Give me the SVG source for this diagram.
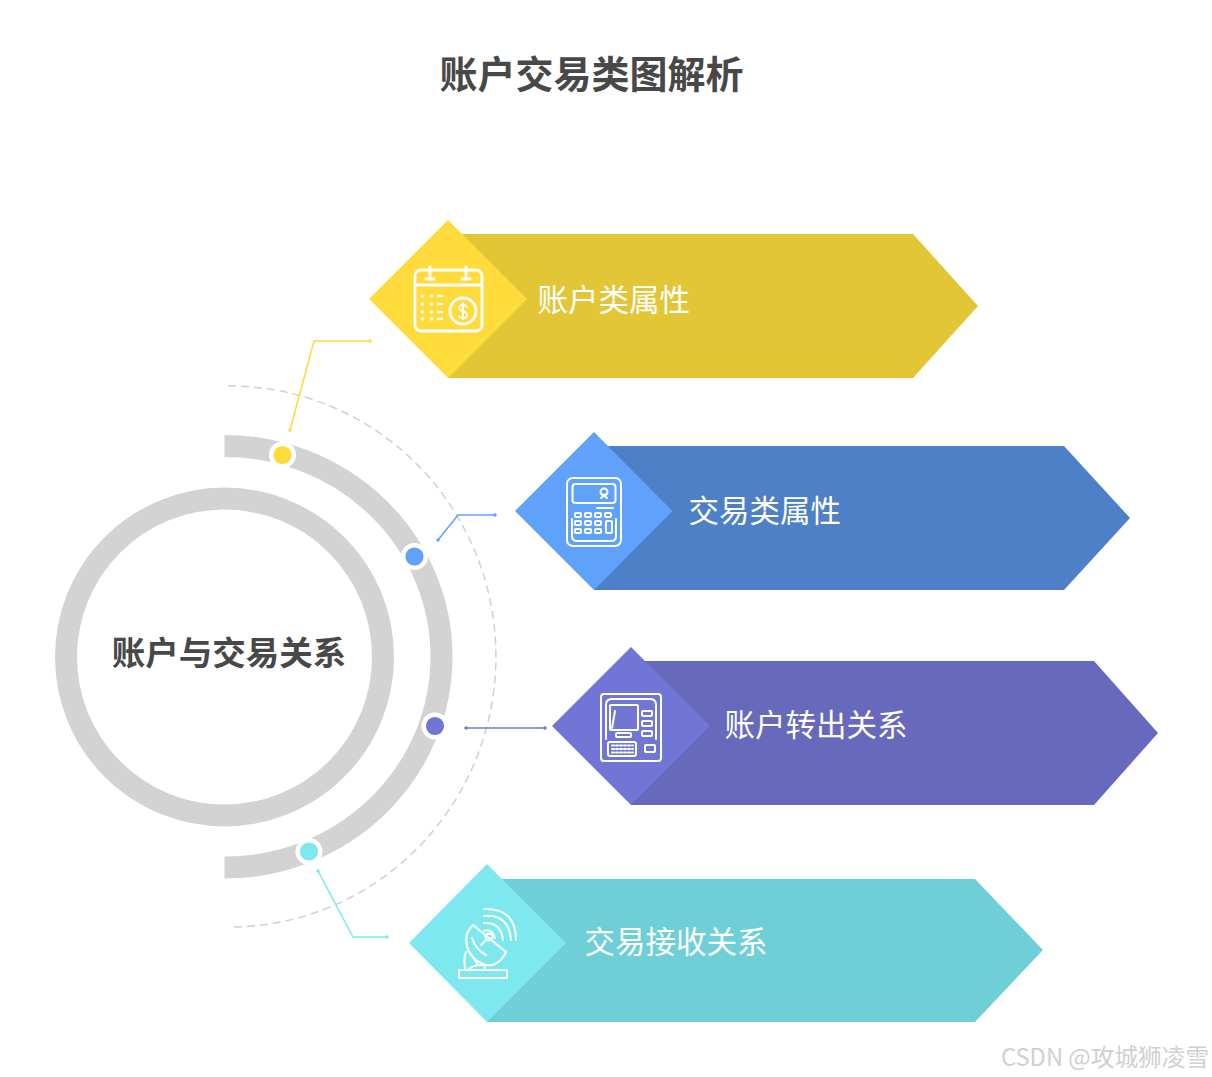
<svg xmlns="http://www.w3.org/2000/svg" width="1212" height="1077" viewBox="0 0 1212 1077">
<style>
text{font-family:"Noto Sans CJK SC","Noto Sans",sans-serif}
.title{font-size:38px;font-weight:700;fill:#484848}
.center{font-size:33.500px;font-weight:700;fill:#484848}
.label{font-size:30.500px;font-weight:400;fill:#fff}
.mark{font-size:23.700px;fill:#d0d0d0}
.ring{fill:none;stroke:#d3d3d3;stroke-width:22}
.dash{fill:none;stroke:#d0d0d0;stroke-width:1.500;stroke-dasharray:8 5}
.icon{fill:none;stroke:#fff;stroke-width:2;stroke-linecap:round;stroke-linejoin:round}
.icon3{fill:none;stroke:#fff;stroke-width:2.800;stroke-linecap:round;stroke-linejoin:round}
.dot{stroke:#fff;stroke-width:4.400}
.c{fill:none;stroke-width:1.500}
</style>
<defs>
<marker id="end" viewBox="0 0 4 4" refX="2" refY="2" markerWidth="3.500" markerHeight="3.500" markerUnits="userSpaceOnUse"><circle cx="2" cy="2" r="2" fill="context-stroke"/></marker>
</defs>
<text class="title" x="591.500" y="88" text-anchor="middle">账户交易类图解析</text>
<g id="hub">
<circle class="ring" cx="224.500" cy="657" r="158.500"/>
<path class="ring" d="M224.500 446A217 210.750 0 1 1 224.500 867.500"/>
<path class="dash" d="M228 386A266.500 270.500 0 0 1 231 927"/>
<text class="center" x="229" y="665" text-anchor="middle">账户与交易关系</text>
</g>
<g id="connectors">
<path class="c" stroke="#ffdb3c" marker-start="url(#end)" marker-end="url(#end)" d="M290 430L314 341H370"/>
<path class="c" stroke="#60a2fb" marker-start="url(#end)" marker-end="url(#end)" d="M438 540L458 515H495"/>
<path class="c" stroke="#7176d6" marker-start="url(#end)" marker-end="url(#end)" d="M466 728H545"/>
<path class="c" stroke="#7de8ee" marker-start="url(#end)" marker-end="url(#end)" d="M318 871L353 937H387"/>
</g>
<g id="dots">
<circle class="dot" cx="282.500" cy="455" r="11.300" fill="#ffdb3c"/>
<circle class="dot" cx="414.500" cy="556.500" r="11.300" fill="#60a2fb"/>
<circle class="dot" cx="435" cy="726" r="11.300" fill="#7176d6"/>
<circle class="dot" cx="309" cy="851.500" r="11.300" fill="#7de8ee"/>
</g>
<g id="node-1">
<path fill="#e2c635" d="M448 234H913L978 306L913 378H448Z"/>
<path fill="#ffdb3c" d="M448 220L527 299L448 378L369 299Z"/>
<g class="icon3">
<rect x="415" y="270" width="67" height="61" rx="6"/>
<path d="M415 285H482M430 267V279M426 279H434M466 267V279M462 279H470"/>
<circle cx="463" cy="311" r="13"/>
<path stroke-width="2" d="M467 307C465 304 459 304 459 308C459 312 467 310 467 315C467 319 461 319 459 316M463 303V319"/>
<path stroke-dasharray="1 6" d="M422 296H429M422 304H429M422 312H429M422 319H429M431 296H432M431 304H432M431 312H432M431 319H432"/>
<path stroke-width="2.500" d="M438 296H442M438 304H442M438 312H442M438 319H442"/>
</g>
<text class="label" x="537.500" y="310.500">账户类属性</text>
</g>
<g id="node-2">
<path fill="#4d80c7" d="M594 446H1064L1130 518L1064 590H594Z"/>
<path fill="#60a2fb" d="M594 432L672.500 511L594 590L515 511Z"/>
<g class="icon">
<rect x="567" y="478" width="54" height="68" rx="6"/>
<rect x="572.500" y="484" width="43" height="19" rx="3"/>
<circle cx="604" cy="492" r="3.500"/>
<path d="M601 498L606 494M607 498L602 494M597 508H613M572 519V536Q572 541 577 541H611Q616 541 616 536V519"/>
<rect x="575" y="513" width="6" height="4" rx="1"/><rect x="585" y="513" width="6" height="4" rx="1"/><rect x="595" y="513" width="6" height="4" rx="1"/><rect x="605" y="513" width="6" height="4" rx="1"/>
<rect x="575" y="521" width="6" height="4" rx="1"/><rect x="585" y="521" width="6" height="4" rx="1"/><rect x="595" y="521" width="6" height="4" rx="1"/>
<rect x="575" y="529" width="6" height="4" rx="1"/><rect x="585" y="529" width="6" height="4" rx="1"/><rect x="595" y="529" width="6" height="4" rx="1"/>
<rect x="606" y="521" width="6" height="12" rx="1"/>
</g>
<text class="label" x="688.500" y="521.500">交易类属性</text>
</g>
<g id="node-3">
<path fill="#6769bd" d="M631 661H1094L1158 733L1094 805H631Z"/>
<path fill="#7176d6" d="M631 647L710 726L631 805L552 726Z"/>
<g class="icon">
<rect x="601" y="694" width="60" height="67" rx="3"/>
<path d="M606 739V705Q606 699 612 699H650Q656 699 656 705V739M615 711L612 728"/>
<rect x="610" y="705" width="28" height="25" rx="1"/>
<rect x="616" y="733" width="15" height="4" rx="1"/>
<rect x="642" y="711" width="10" height="5" rx="1"/><rect x="642" y="721" width="10" height="5" rx="1"/><rect x="642" y="731" width="10" height="5" rx="1"/>
<rect x="608" y="742" width="28" height="14" rx="2"/>
<rect x="645" y="745" width="10" height="7" rx="1"/>
<path stroke-dasharray="2 2" d="M612 745.500H633M612 749H633M612 752.500H633"/>
</g>
<text class="label" x="724.500" y="735.500">账户转出关系</text>
</g>
<g id="node-4">
<path fill="#6fcfd6" d="M487 879H975L1043 950L975 1022H487Z"/>
<path fill="#7de8ee" d="M487 864L566 943L487 1022L409 943Z"/>
<g class="icon">
<path d="M473 925C462 935 464 956 483 964C490 967 500 965 506 952Z"/>
<path d="M472 938C475 947 480 952 486 955"/>
<circle cx="489" cy="937" r="3.500"/>
<path d="M486 940L481 945M484 931Q492 928 495 938M484 923Q501 922 503 940M484 916Q509 914 511 940M484 909Q516 908 516 940"/>
<path d="M466 952C463 958 465 966 465 970M471 954L478 965M459 970H507V978H459ZM469 970C470 966 476 965 484 965C488 965 483 966 485 970"/>
</g>
<text class="label" x="584.500" y="952.500">交易接收关系</text>
</g>
<text class="mark" x="1001" y="1066">CSDN @攻城狮凌雪</text>
</svg>
